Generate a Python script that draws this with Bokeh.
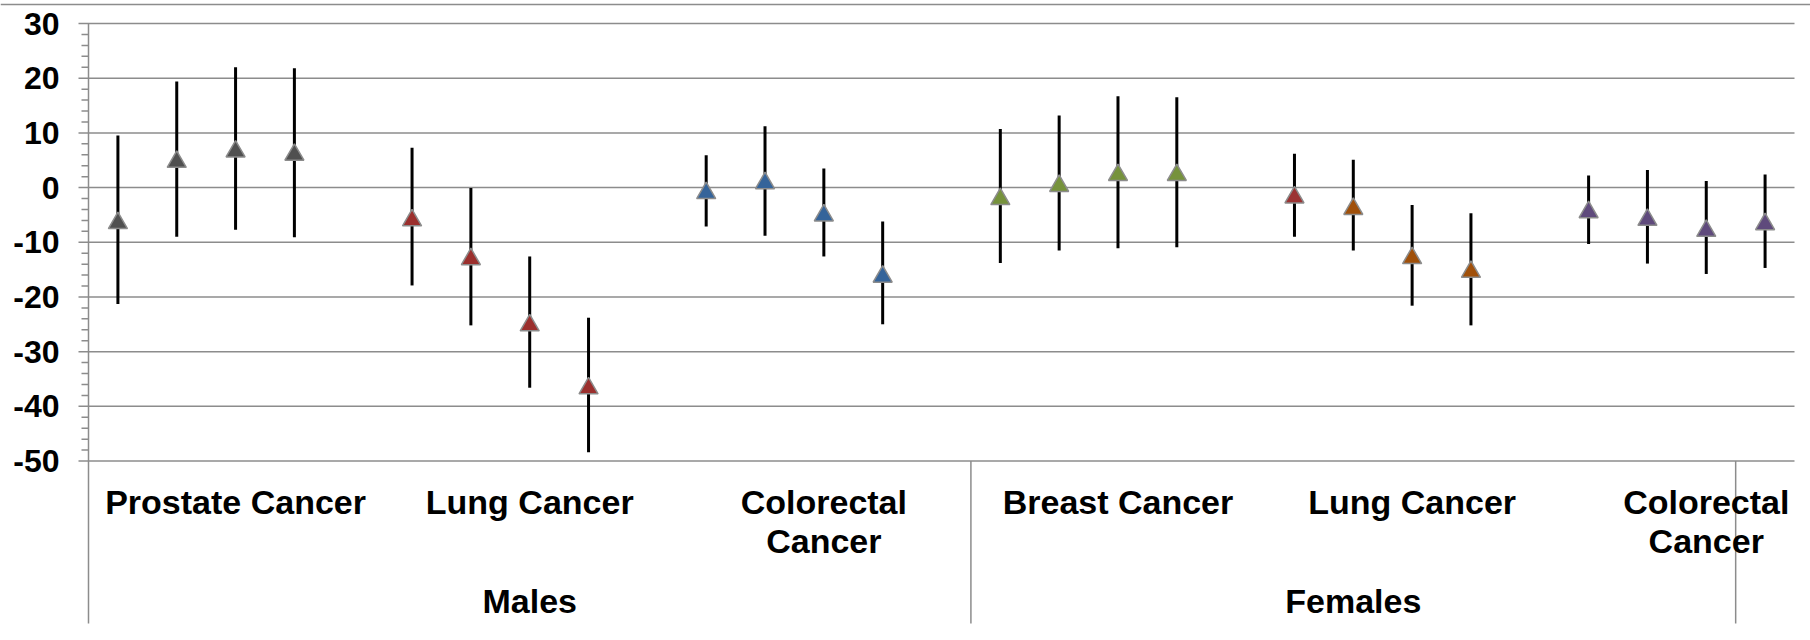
from bokeh.plotting import figure
from bokeh.models import Range1d, ColumnDataSource
from bokeh.core.properties import value
from bokeh.embed import file_html
from bokeh.resources import INLINE

# ---------------- data ----------------
sexes = ["Males", "Females"]
cancers = ["Prostate Cancer", "Lung Cancer", "Colorectal Cancer",
           "Breast Cancer", "Lung Cancer", "Colorectal Cancer"]
cancer_sex = [0, 0, 0, 1, 1, 1]

prostate_m_est = [-6.0, 5.2, 7.1, 6.5]
prostate_m_lo = [-21.3, -9.0, -7.7, -9.1]
prostate_m_hi = [9.5, 19.4, 22.0, 21.8]

lung_m_est = [-5.5, -12.6, -24.7, -36.2]
lung_m_lo = [-17.9, -25.2, -36.6, -48.4]
lung_m_hi = [7.3, -0.1, -12.6, -23.8]

colorectal_m_est = [-0.5, 1.3, -4.6, -15.8]
colorectal_m_lo = [-7.1, -8.8, -12.6, -25.0]
colorectal_m_hi = [5.9, 11.2, 3.5, -6.2]

breast_f_est = [-1.6, 0.8, 2.8, 2.8]
breast_f_lo = [-13.8, -11.5, -11.1, -10.9]
breast_f_hi = [10.7, 13.2, 16.7, 16.5]

lung_f_est = [-1.3, -3.4, -12.4, -14.9]
lung_f_lo = [-9.0, -11.5, -21.6, -25.2]
lung_f_hi = [6.2, 5.1, -3.2, -4.7]

colorectal_f_est = [-4.0, -5.4, -7.4, -6.2]
colorectal_f_lo = [-10.3, -13.9, -15.8, -14.7]
colorectal_f_hi = [2.2, 3.2, 1.2, 2.4]

y_ticks = [30, 20, 10, 0, -10, -20, -30, -40, -50]

series_est = [prostate_m_est, lung_m_est, colorectal_m_est, breast_f_est, lung_f_est, colorectal_f_est]
series_lo = [prostate_m_lo, lung_m_lo, colorectal_m_lo, breast_f_lo, lung_f_lo, colorectal_f_lo]
series_hi = [prostate_m_hi, lung_m_hi, colorectal_m_hi, breast_f_hi, lung_f_hi, colorectal_f_hi]

# ---------------- styles / layout ----------------
group_colors = [
    ["#505050"] * 4,
    ["#9B2F2D"] * 4,
    ["#35649A"] * 4,
    ["#76923C"] * 4,
    ["#9B3232", "#A0500A", "#A0500A", "#A0500A"],
    ["#5F4A7C"] * 4,
]
W, H = 1810, 640
LEFT, RIGHT = 88, 1794          # px of plot area
TOP, BOTTOM = 23, 460.5         # px of y max / y min
Y_MAX, Y_MIN = 30, -50
SLOTS_PER_GROUP = 5
N_SLOTS = SLOTS_PER_GROUP * len(cancers) - 1
sw = (RIGHT - LEFT) / N_SLOTS
pu = (BOTTOM - TOP) / (Y_MAX - Y_MIN)


def px_x(px):
    return (px - LEFT) / sw


def px_y(py):
    return Y_MAX - (py - TOP) / pu


GRID = "#8C8C8C"
FONT = value("Liberation Sans")

x_range = Range1d(px_x(0), px_x(W))
y_range = Range1d(px_y(H), px_y(0))

p = figure(width=W, height=H, x_range=x_range, y_range=y_range,
           x_axis_type=None, y_axis_type=None, toolbar_location=None,
           output_backend="svg", min_border=0, outline_line_color=None,
           background_fill_color="white", border_fill_color="white")
p.grid.visible = False

# marker offset range so that the triangle's box centre sits on the value
marker_size = 19
dy = (marker_size / 2 * (3 ** 0.5) / 6) / pu
p.extra_y_ranges = {"mk": Range1d(y_range.start + dy, y_range.end + dy)}

# top border line
p.segment(x0=[px_x(0)], x1=[px_x(W)], y0=[px_y(4)], y1=[px_y(4)],
          line_color=GRID, line_width=1.5)

# gridlines
p.segment(x0=[px_x(78)] * len(y_ticks), x1=[N_SLOTS] * len(y_ticks),
          y0=y_ticks, y1=y_ticks, line_color=GRID, line_width=1.5)

# minor ticks
minor = [v for v in range(Y_MIN, Y_MAX + 1, 2) if v % 10 != 0]
p.segment(x0=[px_x(81)] * len(minor), x1=[0] * len(minor),
          y0=minor, y1=minor, line_color=GRID, line_width=1.5)

# category separators (incl. value axis line)
n_male = sum(1 for s in cancer_sex if s == 0)
seps = [0, n_male * SLOTS_PER_GROUP, N_SLOTS - 1]
p.segment(x0=seps, x1=seps, y0=[Y_MIN] * len(seps), y1=[px_y(623)] * len(seps),
          line_color=GRID, line_width=1.5)
p.segment(x0=[0], x1=[0], y0=[Y_MAX], y1=[Y_MIN], line_color=GRID, line_width=1.5)

# tick labels
p.text(x=[px_x(59)] * len(y_ticks), y=y_ticks, text=[str(t) for t in y_ticks],
       text_align="right", text_baseline="middle", text_font=FONT,
       text_font_style="bold", text_font_size=value("32px"), text_color="black")

# data points
xs, est, lo, hi, cols = [], [], [], [], []
for g in range(len(cancers)):
    for i in range(4):
        xs.append(g * SLOTS_PER_GROUP + i + 0.5)
        est.append(series_est[g][i])
        lo.append(series_lo[g][i])
        hi.append(series_hi[g][i])
        cols.append(group_colors[g][i])
src = ColumnDataSource(dict(x=xs, est=est, lo=lo, hi=hi, c=cols))
p.segment(x0="x", x1="x", y0="lo", y1="hi", source=src, line_color="black",
          line_width=3)
p.scatter(x="x", y="est", source=src, marker="triangle", size=marker_size,
          fill_color="c", line_color="#8C8C8C", line_width=1.5, y_range_name="mk")

# category labels
line_gap = 39 / pu
lx, ly, lt = [], [], []
for g, name in enumerate(cancers):
    cx = g * SLOTS_PER_GROUP + SLOTS_PER_GROUP / 2
    if len(name) > 15:
        parts = name.rsplit(" ", 1)
    else:
        parts = [name]
    for j, part in enumerate(parts):
        lx.append(cx)
        ly.append(px_y(501) - j * line_gap)
        lt.append(part)
p.text(x=lx, y=ly, text=lt, text_align="center", text_baseline="alphabetic",
       text_font=FONT, text_font_style="bold", text_font_size=value("34px"),
       text_color="black")

# sex labels
sex_cx = [n_male * SLOTS_PER_GROUP / 2,
          n_male * SLOTS_PER_GROUP + (N_SLOTS - 1 - n_male * SLOTS_PER_GROUP) / 2]
p.text(x=sex_cx, y=[px_y(600)] * 2, text=sexes, text_align="center",
       text_baseline="alphabetic", text_font=FONT, text_font_style="bold",
       text_font_size=value("34px"), text_color="black")

open("out.html", "w").write(file_html(p, INLINE))
